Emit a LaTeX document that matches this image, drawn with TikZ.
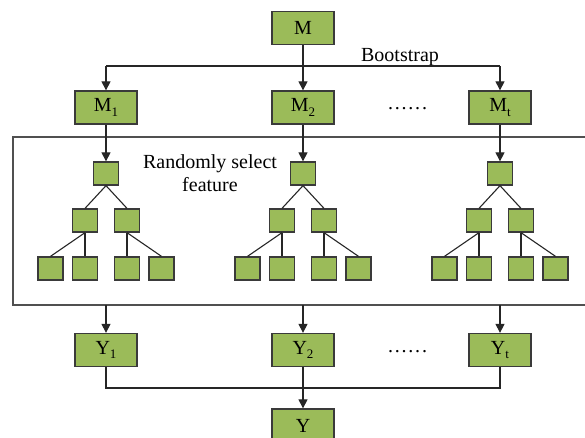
\documentclass[tikz,border=0pt]{standalone}
\usepackage{fontspec}
\setmainfont{Liberation Serif}
\usetikzlibrary{arrows.meta}
\definecolor{boxgreen}{HTML}{9BBB59}
\definecolor{boxedge}{HTML}{3A3A3A}
\definecolor{frame}{HTML}{505050}
\newcommand\mysub[1]{\raisebox{-0.22em}{\fontsize{13}{13}\selectfont #1}}
\newcommand\mydots{.\kern1.8pt.\kern1.8pt.\kern1.8pt.\kern1.8pt.\kern1.8pt.}
\begin{document}
\begin{tikzpicture}[x=1pt,y=-1pt,
  bigbox/.style={draw=boxedge, fill=boxgreen, line width=1.3pt, minimum width=62pt, minimum height=33pt, inner sep=0pt, font=\fontsize{20}{23}\selectfont},
  leaf/.style={draw=boxedge, fill=boxgreen, line width=1.3pt, minimum width=25pt, minimum height=23pt, inner sep=0pt},
  conn/.style={draw=black!85, line width=1.1pt},
  arr/.style={conn, -{Triangle[length=9pt,width=9pt]}},
  lbl/.style={font=\fontsize{20}{23}\selectfont, inner sep=0pt}
]
\useasboundingbox (0,0) rectangle (585,437);

% top level
\node[bigbox] (M) at (303,28) {M};
\node[bigbox] (M1) at (106,107.5) {M\mysub{1}};
\node[bigbox] (M2) at (303,107.5) {M\mysub{2}};
\node[bigbox] (Mt) at (500,107.5) {M\mysub{t}};
\node[lbl, anchor=base] (boot) at (400,61) {Bootstrap};
\node[lbl, anchor=base] (dots1) at (407.5,109) {\mydots};

\coordinate (hl) at (106,66);
\coordinate (hr) at (500,66);
\draw[arr] (M.south) -- (M2.north);
\draw[conn] (hl) -- (hr);
\draw[arr] (hl) -- (M1.north);
\draw[arr] (hr) -- (Mt.north);

% frame
\draw[draw=frame, line width=1.2pt] (13,137) rectangle (600,305);
\coordinate (fb1) at (106,305);
\coordinate (fb2) at (303,305);
\coordinate (fb3) at (500,305);

\node[lbl, align=center] (rsf) at (210,173) {Randomly select\\feature};

% trees
\foreach \i/\cx in {1/106,2/303,3/500}{
  \node[leaf] (r\i) at (\cx,173.5) {};
  \node[leaf] (a\i) at (\cx-21,220.5) {};
  \node[leaf] (b\i) at (\cx+21,220.5) {};
  \node[leaf] (p\i) at (\cx-55.5,268.5) {};
  \node[leaf] (q\i) at (\cx-21,268.5) {};
  \node[leaf] (s\i) at (\cx+21,268.5) {};
  \node[leaf] (u\i) at (\cx+55.5,268.5) {};
  \draw[conn] (r\i.south) -- (a\i.north);
  \draw[conn] (r\i.south) -- (b\i.north);
  \draw[conn] (a\i.south) -- (p\i.north);
  \draw[conn] (a\i.south) -- (q\i.north);
  \draw[conn] (b\i.south) -- (s\i.north);
  \draw[conn] (b\i.south) -- (u\i.north);
}
\draw[arr] (M1.south) -- (r1.north);
\draw[arr] (M2.south) -- (r2.north);
\draw[arr] (Mt.south) -- (r3.north);

% bottom level
\node[bigbox] (Y1) at (106,350) {Y\mysub{1}};
\node[bigbox] (Y2) at (303,350) {Y\mysub{2}};
\node[bigbox] (Yt) at (500,350) {Y\mysub{t}};
\node[lbl, anchor=base] (dots2) at (407.5,352) {\mydots};
\node[bigbox, minimum height=34pt] (Y) at (303,426) {Y};

\draw[arr] (fb1) -- (Y1.north);
\draw[arr] (fb2) -- (Y2.north);
\draw[arr] (fb3) -- (Yt.north);
\coordinate (bl) at (106,388);
\coordinate (br) at (500,388);
\draw[conn] (Y1.south) -- (bl) -- (br) -- (Yt.south);
\draw[arr] (Y2.south) -- (Y.north);
\end{tikzpicture}
\end{document}
